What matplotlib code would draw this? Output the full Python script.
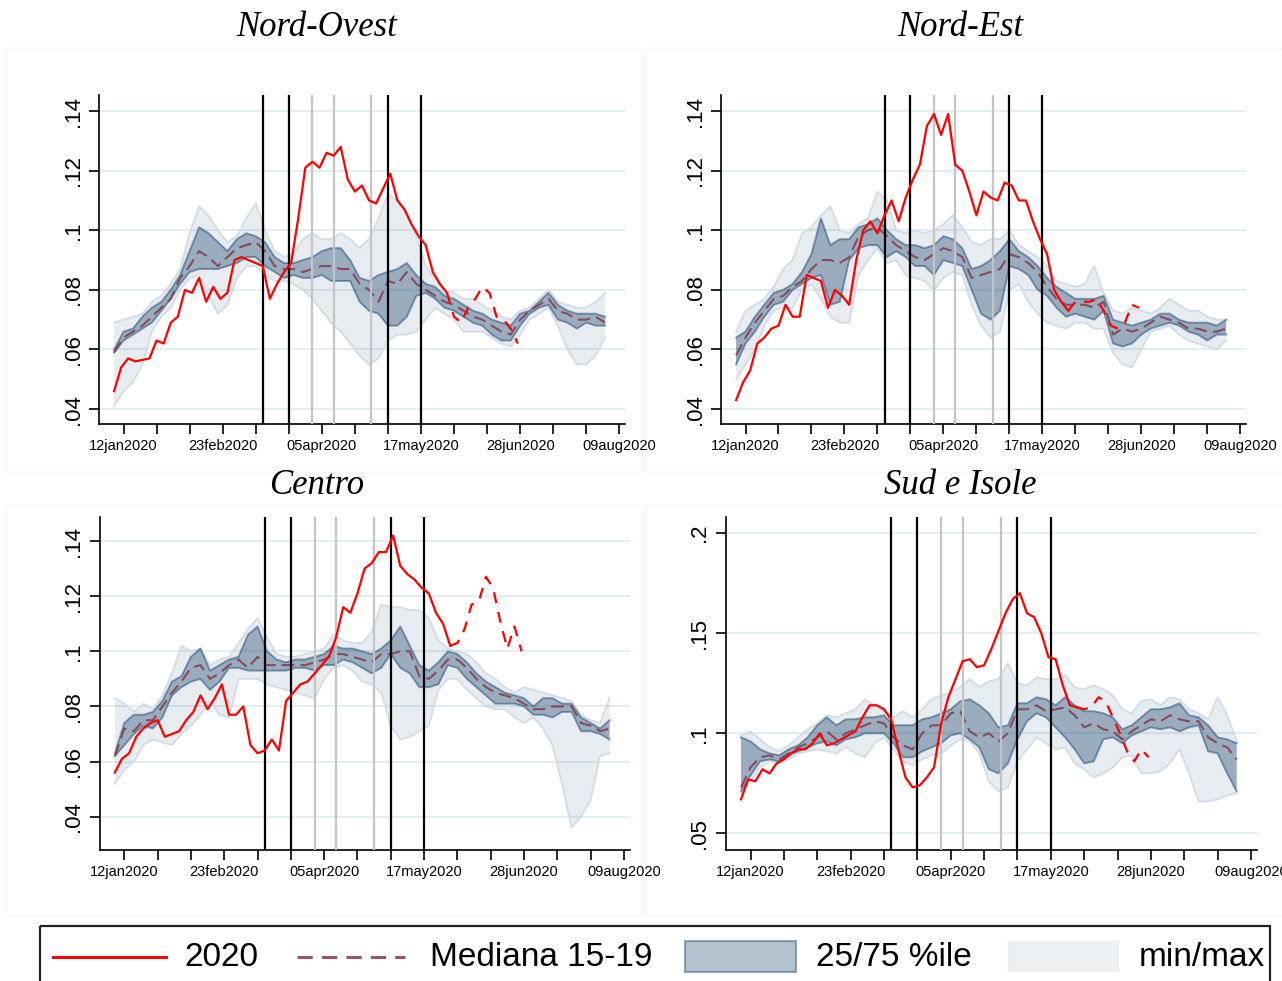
import datetime as dt

import numpy as np
import matplotlib
matplotlib.use("Agg")
import matplotlib.pyplot as plt
from matplotlib.patches import Rectangle
from matplotlib.lines import Line2D
from matplotlib.ticker import FuncFormatter

plt.rcParams['font.family'] = ['Liberation Sans', 'DejaVu Sans']

# x positions are day numbers counted from 01jan2020
band_days = np.arange(7, 216, 4)   # 08jan .. 03aug, one value every 4 days
line_days = np.arange(7, 179, 3)   # 08jan .. 27jun, one value every 3 days
SOLID_END = 47                     # after 28may the 2020 figures are provisional

black_events = [70, 81, 123, 137]  # 11mar, 22mar, 03may, 17may
grey_events = [91, 100, 116]       # 01apr, 10apr, 26apr

# ---- Nord-Ovest ----
no_min = [.041, .046, .049, .055, .066, .071, .074, .080, .084, .085, .078, .072, .075, .084, .088, .088, .085, .083,
          .083, .082, .080, .077, .073, .069, .066, .062, .058, .055, .057, .063, .065, .065, .066, .070, .074, .072,
          .070, .066, .066, .066, .064, .062, .061, .065, .070, .072, .074, .068, .060, .055, .055, .058, .064]
no_p25 = [.059, .063, .065, .067, .069, .073, .077, .082, .086, .087, .087, .087, .088, .089, .091, .091, .088, .086,
          .084, .085, .084, .084, .085, .083, .083, .083, .076, .073, .072, .068, .068, .071, .078, .079, .077, .074,
          .073, .071, .069, .068, .065, .063, .063, .068, .072, .074, .075, .070, .069, .067, .069, .068, .068]
no_med = [.059, .064, .066, .068, .071, .074, .077, .084, .088, .093, .091, .088, .091, .094, .095, .096, .093, .088,
          .087, .087, .086, .087, .088, .088, .087, .087, .082, .080, .076, .083, .082, .086, .082, .080, .078, .076,
          .075, .073, .071, .070, .068, .066, .065, .070, .073, .075, .077, .073, .072, .070, .070, .071, .069]
no_p75 = [.060, .066, .067, .071, .074, .076, .080, .085, .093, .101, .099, .096, .093, .097, .099, .098, .096, .091,
          .089, .089, .090, .091, .093, .094, .094, .090, .084, .083, .085, .086, .087, .089, .085, .082, .081, .078,
          .077, .075, .073, .072, .070, .069, .068, .072, .073, .076, .079, .075, .073, .072, .072, .072, .071]
no_max = [.069, .070, .071, .072, .076, .078, .082, .087, .099, .108, .105, .100, .096, .098, .104, .109, .100, .093,
          .091, .092, .097, .099, .097, .097, .099, .097, .094, .097, .104, .112, .110, .106, .098, .088, .084, .080,
          .079, .077, .077, .075, .073, .071, .070, .073, .074, .077, .080, .076, .075, .074, .074, .076, .079]
no_2020 = [.046, .054, .057, .056, .0565, .057, .063, .062, .069, .071, .080, .079, .084, .076, .081, .077, .079, .090,
           .091, .090, .089, .088, .077, .082, .086, .089, .104, .121, .123, .121, .126, .125, .128, .117, .113, .115,
           .110, .109, .114, .119, .110, .107, .102, .098, .095, .086, .082, .079,
           .071, .069, .074, .077, .081, .079, .071, .070, .067, .062]

# ---- Nord-Est ----
ne_min = [.050, .055, .060, .068, .073, .074, .074, .080, .082, .077, .071, .069, .069, .085, .090, .094, .089, .090,
          .085, .084, .083, .080, .084, .086, .085, .075, .068, .064, .066, .080, .082, .076, .072, .069, .068, .067,
          .069, .069, .067, .067, .059, .055, .054, .060, .066, .067, .068, .065, .063, .062, .061, .060, .063]
ne_p25 = [.055, .062, .066, .071, .075, .076, .080, .082, .084, .085, .075, .076, .090, .094, .095, .095, .091, .093,
          .091, .088, .088, .085, .090, .089, .088, .080, .072, .070, .073, .088, .087, .085, .080, .078, .074, .071,
          .072, .071, .070, .073, .062, .061, .062, .065, .067, .068, .069, .068, .066, .065, .063, .065, .065]
ne_med = [.058, .064, .069, .073, .077, .078, .081, .083, .087, .090, .090, .089, .091, .098, .100, .101, .098, .095,
          .093, .091, .090, .092, .094, .093, .091, .084, .085, .086, .087, .092, .091, .089, .086, .081, .077, .075,
          .075, .075, .074, .076, .065, .067, .066, .067, .069, .071, .070, .069, .067, .067, .066, .066, .067]
ne_p75 = [.064, .066, .071, .075, .079, .080, .082, .086, .092, .104, .095, .097, .097, .101, .102, .104, .100, .097,
          .095, .095, .094, .095, .098, .097, .094, .087, .088, .090, .093, .097, .093, .091, .088, .084, .081, .079,
          .077, .077, .077, .078, .070, .069, .068, .069, .070, .072, .072, .070, .069, .069, .069, .068, .070]
ne_max = [.066, .073, .075, .077, .081, .087, .090, .099, .101, .105, .108, .100, .099, .102, .104, .113, .110, .100,
          .099, .100, .099, .100, .102, .105, .101, .096, .095, .097, .097, .100, .095, .093, .091, .088, .083, .082,
          .081, .082, .088, .079, .073, .072, .074, .073, .072, .074, .077, .075, .073, .073, .071, .070, .070]
ne_2020 = [.043, .049, .053, .062, .064, .067, .068, .075, .071, .071, .085, .084, .083, .074, .080, .078, .075, .090,
           .100, .103, .099, .105, .110, .103, .111, .117, .122, .135, .139, .132, .139, .122, .120, .113, .105, .113,
           .111, .110, .116, .115, .110, .110, .103, .097, .092, .080, .076, .073,
           .076, .076, .076, .077, .073, .068, .067, .069, .075, .074]

# ---- Centro ----
ce_min = [.052, .057, .060, .066, .068, .067, .066, .070, .073, .077, .082, .077, .076, .090, .090, .090, .088, .087,
          .086, .085, .084, .083, .090, .094, .095, .093, .089, .088, .085, .073, .068, .069, .071, .073, .086, .090,
          .090, .086, .083, .080, .079, .079, .076, .074, .076, .072, .066, .052, .036, .040, .046, .062, .063]
ce_p25 = [.062, .066, .070, .073, .072, .076, .084, .087, .089, .090, .086, .089, .094, .094, .093, .093, .093, .093,
          .093, .094, .094, .093, .095, .095, .097, .096, .094, .092, .094, .099, .094, .092, .087, .087, .088, .095,
          .094, .090, .087, .084, .081, .081, .081, .080, .077, .077, .076, .078, .078, .071, .071, .070, .068]
ce_med = [.062, .072, .071, .075, .075, .080, .085, .089, .094, .095, .090, .092, .095, .097, .094, .098, .095, .095,
          .095, .095, .095, .096, .097, .099, .099, .098, .097, .096, .099, .099, .100, .100, .091, .090, .093, .097,
          .097, .094, .090, .087, .085, .084, .083, .081, .079, .079, .080, .080, .080, .074, .073, .071, .072]
ce_p75 = [.063, .074, .077, .077, .078, .082, .089, .091, .098, .101, .093, .095, .097, .098, .106, .109, .100, .097,
          .096, .097, .097, .098, .099, .102, .101, .101, .100, .099, .101, .104, .109, .102, .095, .093, .096, .100,
          .099, .096, .092, .089, .087, .085, .084, .083, .080, .083, .083, .081, .081, .076, .074, .072, .075]
ce_max = [.083, .081, .078, .081, .079, .084, .092, .102, .100, .101, .095, .097, .098, .103, .108, .112, .105, .099,
          .098, .098, .099, .100, .101, .106, .104, .103, .103, .107, .117, .116, .116, .115, .115, .112, .104, .101,
          .100, .099, .096, .092, .090, .087, .085, .087, .086, .085, .084, .083, .082, .077, .075, .074, .083]
ce_2020 = [.056, .061, .063, .069, .072, .074, .075, .069, .070, .071, .075, .078, .084, .079, .083, .088, .077, .077,
           .080, .066, .063, .064, .068, .064, .082, .085, .088, .089, .092, .095, .098, .105, .116, .114, .121, .130,
           .132, .136, .136, .142, .131, .128, .126, .123, .121, .114, .110, .102,
           .103, .108, .117, .118, .127, .123, .111, .101, .109, .100]

# ---- Sud e Isole ----
si_min = [.070, .076, .083, .086, .085, .087, .090, .091, .092, .091, .090, .093, .090, .088, .095, .098, .092, .086,
          .084, .087, .089, .090, .094, .097, .096, .090, .076, .071, .073, .086, .092, .098, .095, .092, .093, .085,
          .082, .078, .080, .083, .088, .089, .080, .080, .081, .085, .092, .080, .066, .066, .067, .069, .070]
si_p25 = [.071, .079, .086, .087, .086, .089, .091, .093, .095, .096, .094, .097, .098, .100, .100, .100, .095, .088,
          .088, .091, .093, .095, .099, .100, .097, .093, .082, .080, .085, .097, .106, .110, .108, .103, .098, .092,
          .085, .086, .097, .098, .095, .099, .101, .103, .102, .103, .101, .103, .104, .091, .090, .080, .071]
si_med = [.073, .083, .088, .089, .087, .090, .093, .095, .098, .101, .097, .100, .102, .104, .106, .105, .098, .094,
          .092, .100, .104, .104, .110, .111, .101, .098, .100, .096, .100, .112, .112, .114, .111, .112, .113, .109,
          .103, .105, .102, .101, .097, .101, .104, .107, .106, .109, .107, .106, .106, .098, .095, .093, .087]
si_p75 = [.098, .096, .092, .090, .089, .092, .094, .098, .104, .108, .104, .107, .107, .108, .108, .109, .104, .104,
          .104, .107, .108, .110, .112, .116, .117, .114, .110, .103, .104, .115, .115, .118, .117, .114, .118, .114,
          .111, .111, .110, .108, .102, .104, .108, .112, .112, .113, .115, .109, .108, .104, .098, .097, .095]
si_max = [.099, .101, .097, .093, .091, .094, .098, .102, .105, .109, .108, .110, .112, .117, .114, .111, .108, .111,
          .108, .112, .117, .119, .120, .123, .127, .123, .126, .127, .135, .125, .124, .128, .127, .127, .129, .123,
          .122, .124, .122, .119, .112, .110, .116, .117, .114, .118, .117, .112, .110, .107, .118, .109, .096]
si_2020 = [.067, .077, .076, .082, .080, .085, .087, .090, .092, .092, .095, .100, .094, .095, .097, .099, .101, .108,
           .114, .114, .112, .107, .092, .078, .073, .074, .078, .083, .105, .118, .127, .136, .137, .133, .134, .142,
           .151, .160, .167, .170, .160, .158, .150, .138, .137, .124, .114, .113,
           .112, .113, .118, .116, .108, .100, .091, .086, .092, .088]

NAVY = '#1a476f'
RED = '#ff0000'
MEDIAN = '#85384c'
LIGHT_EDGE = '#d3dbe4'

panels = [
    ('Nord-Ovest', [0.0772, 0.5678, 0.4103, 0.3354], (0.0350, 0.1454), [.04, .06, .08, .10, .12, .14],
     no_min, no_p25, no_med, no_p75, no_max, no_2020),
    ('Nord-Est', [0.5624, 0.5678, 0.4095, 0.3354], (0.0350, 0.1454), [.04, .06, .08, .10, .12, .14],
     ne_min, ne_p25, ne_med, ne_p75, ne_max, ne_2020),
    ('Centro', [0.0777, 0.1335, 0.4134, 0.3394], (0.0279, 0.1487), [.04, .06, .08, .10, .12, .14],
     ce_min, ce_p25, ce_med, ce_p75, ce_max, ce_2020),
    ('Sud e Isole', [0.5661, 0.1335, 0.4142, 0.3394], (0.0417, 0.2080), [.05, .10, .15, .20],
     si_min, si_p25, si_med, si_p75, si_max, si_2020),
]
title_pos = [(317, 28), (960, 28), (317, 485), (960, 485)]

fig = plt.figure(figsize=(12.82, 9.81), dpi=100)

# overlay in pixel units for the legend and the sub-graph frames
lax = fig.add_axes([0, 0, 1, 1], zorder=0)
lax.set_xlim(0, 1282)
lax.set_ylim(981, 0)
lax.axis('off')
for (x0, y0, w, h) in [(6, 48, 636, 424), (646, 48, 636, 424), (6, 505, 636, 410), (646, 505, 636, 410)]:
    lax.add_patch(Rectangle((x0, y0), w, h, fill=False, ec='#f6f6f6', lw=1))


def tick_label(d):
    date = dt.date(2020, 1, 1) + dt.timedelta(days=int(d))
    if (d - 11) % 42:
        return ''
    return f"{date.day:02d}{date.strftime('%b').lower()}{date.year}"


xticks = np.arange(11, 222, 14)

for i, (name, rect, ylim, yticks, lo, p25, med, p75, hi, y2020) in enumerate(panels):
    ax = fig.add_axes(rect, zorder=1)

    # min/max range of 2015-19
    ax.fill_between(band_days, lo, hi, facecolor=NAVY, alpha=0.1, edgecolor='none', zorder=1)
    ax.plot(band_days, lo, color=LIGHT_EDGE, lw=1.3, zorder=1.1)
    ax.plot(band_days, hi, color=LIGHT_EDGE, lw=1.3, zorder=1.1)

    # interquartile band
    ax.fill_between(band_days, p25, p75, facecolor=NAVY, alpha=0.38, edgecolor='none', zorder=2)
    ax.plot(band_days, p25, color=NAVY, alpha=0.5, lw=1.4, zorder=2.1)
    ax.plot(band_days, p75, color=NAVY, alpha=0.5, lw=1.4, zorder=2.1)

    ax.plot(band_days, med, color=MEDIAN, lw=1.5, dashes=(6, 3), alpha=0.85, zorder=3)

    for d in grey_events:
        ax.axvline(d, color='#c4c4c4', lw=1.6, zorder=3.5)
    for d in black_events:
        ax.axvline(d, color='black', lw=1.6, zorder=3.6)

    ax.plot(line_days[:SOLID_END + 1], y2020[:SOLID_END + 1], color=RED, lw=1.6, zorder=4)
    ax.plot(line_days[SOLID_END:], y2020[SOLID_END:], color=RED, lw=1.6, dashes=(5, 4), zorder=4)

    ax.set_xlim(0.6, 223.4)
    ax.set_ylim(*ylim)
    ax.set_xticks(xticks)
    ax.set_xticklabels([tick_label(d) for d in xticks], fontsize=10.5)
    ax.set_yticks(yticks)
    ax.yaxis.set_major_formatter(FuncFormatter(lambda v, pos: f"{v:g}"[1:]))
    ax.tick_params(axis='y', labelsize=16, length=7, width=1.2, pad=4)
    ax.tick_params(axis='x', length=7, width=1.2, pad=4)
    for lab in ax.get_yticklabels():
        lab.set_rotation(90)
        lab.set_va('center')
    ax.grid(axis='y', color='#e4edf1', lw=1.5, zorder=0)
    ax.set_axisbelow(True)
    for side in ('top', 'right'):
        ax.spines[side].set_visible(False)
    for side in ('left', 'bottom'):
        ax.spines[side].set_linewidth(1.2)

    tx, ty = title_pos[i]
    fig.text(tx / 1282, 1 - ty / 981, name, ha='center', va='center', fontsize=25,
             family=['Liberation Serif', 'DejaVu Serif'], style='italic')

# legend
lax.add_patch(Rectangle((40, 926), 1230, 80, fill=False, ec='#222222', lw=1.6))
lax.add_line(Line2D([53, 166], [957, 957], color=RED, lw=2.2))
lax.text(184, 958, '2020', fontsize=24, va='center')
lax.add_line(Line2D([297, 405], [957, 957], color=MEDIAN, lw=2.2, dashes=(5, 3), alpha=0.85))
lax.text(430, 958, 'Mediana 15-19', fontsize=24, va='center')
lax.add_patch(Rectangle((685, 941), 111, 31, facecolor=NAVY, alpha=0.32, ec='none'))
lax.add_patch(Rectangle((685, 941), 111, 31, fill=False, ec=NAVY, alpha=0.45, lw=1.5))
lax.text(816, 958, '25/75 %ile', fontsize=24, va='center')
lax.add_patch(Rectangle((1008, 941), 111, 31, facecolor=NAVY, alpha=0.08, ec=LIGHT_EDGE, lw=1.5))
lax.text(1139, 958, 'min/max', fontsize=24, va='center')

fig.savefig('out.png', dpi=100)
